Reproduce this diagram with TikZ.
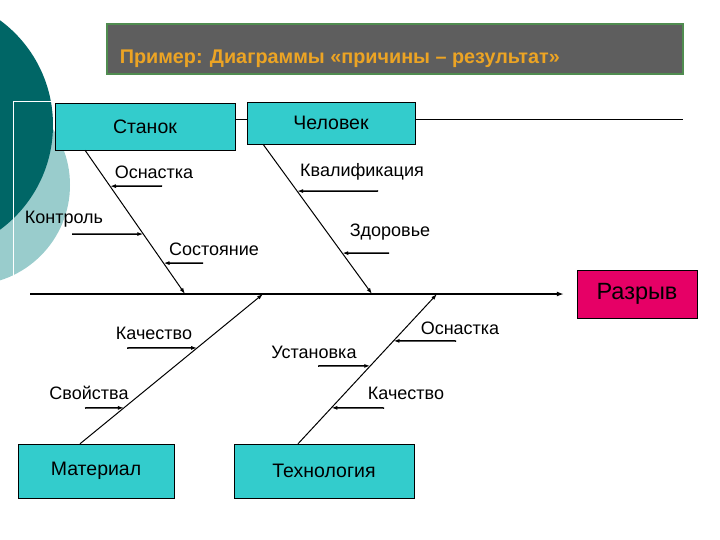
\documentclass[tikz,border=0pt]{standalone}
\usepackage{fontspec}
\setmainfont{Liberation Sans}
\usetikzlibrary{arrows.meta, positioning, calc}

\definecolor{boxcyan}{RGB}{51,204,204}
\definecolor{gaprose}{RGB}{230,0,102}
\definecolor{titlegray}{RGB}{94,94,94}
\definecolor{titleedge}{RGB}{80,140,80}
\definecolor{titleorange}{RGB}{236,164,36}
\definecolor{tealdark}{RGB}{0,102,102}
\definecolor{teallight}{RGB}{153,204,204}

\begin{document}
\begin{tikzpicture}[
  x=1pt, y=-1pt,
  cat/.style={draw, fill=boxcyan, inner sep=0pt,
              font=\fontsize{19.5}{22}\selectfont},
  lbl/.style={inner sep=0pt, font=\fontsize{18}{20}\selectfont},
  bone/.style={-{Latex[length=6pt,width=4pt]}, line width=1pt},
  cause/.style={-{Latex[length=6pt,width=4pt]}, line width=1.5pt},
  spine/.style={-{Latex[length=7pt,width=5pt]}, line width=2pt}
]
  \useasboundingbox (0,0) rectangle (720,540);

  % slide decoration
  \begin{scope}
    \clip (0,0) rectangle (720,540);
    \fill[teallight] (-30,185) circle (100);
    \fill[tealdark]  (-77,125) circle (130);
  \end{scope}
  \draw[white, line width=1pt] (55,102) -| (13,277);

  % title
  \node[draw=titleedge, fill=titlegray, line width=1.5pt,
        minimum width=576pt, minimum height=50pt] (titlebox) at (395,49) {};
  \node[anchor=west, text=titleorange, font=\bfseries\fontsize{19.8}{22}\selectfont]
        (title) at ([xshift=10pt, yshift=-10pt]titlebox.west)
        {Пример: Диаграммы «причины – результат»};

  % top line
  \coordinate (tl) at (235,120);
  \coordinate (tr) at (683,120);
  \draw[line width=1pt] (tl) -- (tr);

  % categories
  \node[cat, minimum width=180pt, minimum height=47pt] (stanok)   at (145,126.5) {Станок};
  \node[cat, minimum width=168pt, minimum height=42pt] (chelovek) at (331,123)   {Человек};
  \node[cat, minimum width=156pt, minimum height=54pt] (material) at (96,471)    {Материал};
  \node[cat, minimum width=180pt, minimum height=54pt] (tekhnol)  at (324,471)   {Технология};
  \node[draw, fill=gaprose, minimum width=120pt, minimum height=48pt,
        font=\fontsize{23.5}{26}\selectfont] (razryv) at (637,294) {Разрыв};

  % spine
  \coordinate (tail) at (30,294);
  \draw[spine] (tail) -- ([xshift=-13pt]razryv.west);

  \coordinate (j1) at (185,294);
  \coordinate (j2) at (372,294);
  \coordinate (j3) at (263,294);
  \coordinate (j4) at (437,294);

  % bones
  \draw[bone] ($(stanok.south)+(-60,0)$) -- (j1)
    coordinate[pos=0.25] (k11) coordinate[pos=0.583] (k12) coordinate[pos=0.785] (k13);
  \draw[bone] ($(chelovek.south)+(-68,0)$) -- (j2)
    coordinate[pos=0.313] (k21) coordinate[pos=0.727] (k22);
  \draw[bone] ($(material.north)+(-16,0)$) -- (j3)
    coordinate[pos=0.64] (k31) coordinate[pos=0.24] (k32);
  \draw[bone] ($(tekhnol.north)+(-26,0)$) -- (j4)
    coordinate[pos=0.687] (k41) coordinate[pos=0.52] (k42) coordinate[pos=0.24] (k43);

  % causes
  \coordinate (c11) at (162,186);
  \coordinate (c12) at (72,234);
  \coordinate (c13) at (203,263);
  \coordinate (c21) at (378,191);
  \coordinate (c22) at (389,253);
  \coordinate (c31) at (127,348);
  \coordinate (c32) at (85,408);
  \coordinate (c41) at (456,341);
  \coordinate (c42) at (318,366);
  \coordinate (c43) at (384,408);

  \draw[cause] (c11) -- (k11);
  \draw[cause] (c12) -- (k12);
  \draw[cause] (c13) -- (k13);
  \draw[cause] (c21) -- (k21);
  \draw[cause] (c22) -- (k22);
  \draw[cause] (c31) -- (k31);
  \draw[cause] (c32) -- (k32);
  \draw[cause] (c41) -- (k41);
  \draw[cause] (c42) -- (k42);
  \draw[cause] (c43) -- (k43);

  \node[lbl] (osnastka1) at (154,172) {Оснастка};
  \node[lbl] (kontrol)   at (64,219)  {Контроль};
  \node[lbl] (sostoyan)  at (214,249) {Состояние};
  \node[lbl] (kvalif)    at (362,172) {Квалификация};
  \node[lbl] (zdorov)    at (390,232) {Здоровье};
  \node[lbl] (kachestvo1) at (154,333) {Качество};
  \node[lbl] (svoistva)  at (89,393)  {Свойства};
  \node[lbl] (osnastka2) at (460,328) {Оснастка};
  \node[lbl] (ustanovka) at (314,352) {Установка};
  \node[lbl] (kachestvo2) at (406,393) {Качество};
\end{tikzpicture}
\end{document}
